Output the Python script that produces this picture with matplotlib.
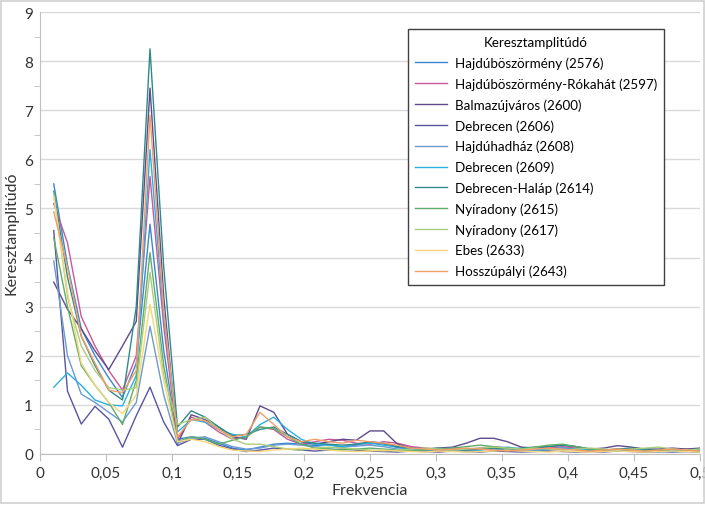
import numpy as np
import matplotlib
matplotlib.use('Agg')
import matplotlib.pyplot as plt
from matplotlib.ticker import MultipleLocator, FuncFormatter

# frequency grid: k/96, k = 1..48
freq = np.arange(1, 49) / 96

names = ['Hajdúböszörmény (2576)', 'Hajdúböszörmény-Rókahát (2597)', 'Balmazújváros (2600)',
         'Debrecen (2606)', 'Hajdúhadház (2608)', 'Debrecen (2609)', 'Debrecen-Haláp (2614)',
         'Nyíradony (2615)', 'Nyíradony (2617)', 'Ebes (2633)', 'Hosszúpályi (2643)']
colors = ['#3a87d0', '#c9589b', '#5e4b8b', '#5a55a0', '#6b9bd1', '#2ab0e0', '#2e8a8a',
          '#5fad6a', '#a9cd7d', '#f5d67a', '#f29e6b']

s2576 = [5.50, 3.85, 2.55, 2.00, 1.55, 1.15, 1.85, 4.68, 2.10, 0.30, 0.35, 0.32, 0.22, 0.12, 0.08, 0.14,
         0.20, 0.22, 0.20, 0.17, 0.19, 0.14, 0.18, 0.24, 0.20, 0.13, 0.10, 0.07, 0.09, 0.06, 0.08, 0.10,
         0.12, 0.10, 0.07, 0.06, 0.09, 0.12, 0.10, 0.06, 0.05, 0.08, 0.07, 0.05, 0.06, 0.08, 0.06, 0.07]
s2597 = [5.10, 4.30, 2.80, 2.20, 1.70, 1.30, 2.00, 5.65, 2.60, 0.30, 0.75, 0.65, 0.45, 0.30, 0.35, 0.55,
         0.50, 0.30, 0.20, 0.25, 0.30, 0.28, 0.22, 0.20, 0.25, 0.22, 0.15, 0.12, 0.10, 0.12, 0.10, 0.12,
         0.15, 0.12, 0.10, 0.08, 0.12, 0.15, 0.12, 0.08, 0.06, 0.10, 0.08, 0.06, 0.05, 0.08, 0.10, 0.08]
s2600 = [3.50, 2.95, 2.55, 2.10, 1.72, 2.20, 2.70, 7.45, 3.20, 0.20, 0.80, 0.70, 0.55, 0.35, 0.30, 0.98,
         0.85, 0.40, 0.25, 0.20, 0.25, 0.30, 0.28, 0.47, 0.47, 0.20, 0.12, 0.10, 0.12, 0.14, 0.22, 0.32,
         0.32, 0.25, 0.14, 0.12, 0.15, 0.18, 0.15, 0.10, 0.12, 0.17, 0.14, 0.10, 0.10, 0.12, 0.10, 0.12]
s2606 = [4.55, 1.28, 0.61, 0.97, 0.71, 0.14, 0.78, 1.36, 0.65, 0.17, 0.30, 0.30, 0.18, 0.10, 0.05, 0.08,
         0.12, 0.10, 0.08, 0.06, 0.08, 0.10, 0.08, 0.06, 0.05, 0.04, 0.06, 0.05, 0.04, 0.06, 0.05, 0.04,
         0.06, 0.05, 0.04, 0.05, 0.06, 0.05, 0.04, 0.05, 0.04, 0.06, 0.05, 0.04, 0.05, 0.04, 0.05, 0.04]
s2608 = [3.93, 2.00, 1.22, 1.05, 0.85, 0.65, 1.05, 2.60, 1.20, 0.22, 0.32, 0.35, 0.25, 0.15, 0.10, 0.12,
         0.18, 0.20, 0.18, 0.15, 0.12, 0.14, 0.16, 0.18, 0.15, 0.10, 0.08, 0.06, 0.08, 0.07, 0.06, 0.08,
         0.10, 0.08, 0.06, 0.07, 0.10, 0.12, 0.09, 0.06, 0.05, 0.07, 0.06, 0.05, 0.04, 0.06, 0.05, 0.06]
s2609 = [1.36, 1.65, 1.40, 1.10, 1.00, 0.98, 1.60, 6.20, 2.80, 0.45, 0.70, 0.65, 0.50, 0.40, 0.35, 0.60,
         0.75, 0.50, 0.30, 0.20, 0.18, 0.15, 0.20, 0.22, 0.18, 0.15, 0.10, 0.08, 0.10, 0.12, 0.10, 0.08,
         0.12, 0.14, 0.10, 0.08, 0.10, 0.12, 0.10, 0.08, 0.06, 0.08, 0.10, 0.08, 0.06, 0.05, 0.06, 0.05]
s2614 = [5.35, 3.60, 2.40, 1.80, 1.30, 1.10, 3.00, 8.25, 3.80, 0.55, 0.88, 0.75, 0.55, 0.37, 0.40, 0.50,
         0.55, 0.40, 0.25, 0.22, 0.20, 0.18, 0.20, 0.25, 0.22, 0.15, 0.12, 0.10, 0.12, 0.10, 0.08, 0.10,
         0.12, 0.10, 0.12, 0.14, 0.15, 0.18, 0.15, 0.10, 0.08, 0.10, 0.12, 0.10, 0.08, 0.10, 0.08, 0.10]
s2615 = [4.40, 3.00, 1.80, 1.40, 1.05, 0.60, 1.50, 4.10, 1.80, 0.25, 0.35, 0.30, 0.20, 0.28, 0.35, 0.55,
         0.52, 0.35, 0.20, 0.12, 0.10, 0.08, 0.10, 0.12, 0.10, 0.08, 0.06, 0.08, 0.10, 0.12, 0.15, 0.18,
         0.15, 0.12, 0.10, 0.14, 0.18, 0.20, 0.15, 0.10, 0.08, 0.10, 0.08, 0.06, 0.08, 0.10, 0.08, 0.06]
s2617 = [5.30, 3.20, 2.20, 1.70, 1.35, 1.30, 1.35, 3.70, 1.60, 0.60, 0.70, 0.75, 0.50, 0.30, 0.20, 0.20,
         0.15, 0.10, 0.08, 0.12, 0.14, 0.12, 0.10, 0.08, 0.06, 0.08, 0.10, 0.12, 0.10, 0.08, 0.10, 0.12,
         0.14, 0.12, 0.10, 0.12, 0.10, 0.08, 0.10, 0.12, 0.10, 0.08, 0.10, 0.12, 0.14, 0.10, 0.08, 0.10]
s2633 = [5.25, 3.30, 1.85, 1.40, 1.05, 0.82, 1.20, 3.05, 1.50, 0.25, 0.30, 0.25, 0.15, 0.08, 0.06, 0.05,
         0.08, 0.10, 0.12, 0.10, 0.08, 0.06, 0.05, 0.06, 0.08, 0.06, 0.05, 0.04, 0.06, 0.05, 0.04, 0.05,
         0.06, 0.08, 0.06, 0.05, 0.04, 0.06, 0.05, 0.04, 0.05, 0.06, 0.05, 0.04, 0.05, 0.06, 0.05, 0.04]
s2643 = [4.93, 3.80, 2.40, 1.85, 1.30, 1.25, 1.70, 6.90, 2.90, 0.35, 0.70, 0.68, 0.50, 0.35, 0.40, 0.85,
         0.60, 0.35, 0.25, 0.30, 0.25, 0.22, 0.28, 0.25, 0.22, 0.18, 0.12, 0.10, 0.08, 0.10, 0.12, 0.10,
         0.08, 0.06, 0.08, 0.10, 0.12, 0.10, 0.08, 0.06, 0.08, 0.10, 0.08, 0.06, 0.08, 0.10, 0.08, 0.06]

series = [s2576, s2597, s2600, s2606, s2608, s2609, s2614, s2615, s2617, s2633, s2643]

plt.rcParams['font.family'] = ['Lato', 'DejaVu Sans']

fig = plt.figure(figsize=(7.05, 5.06), dpi=100)
ax = fig.add_axes([40 / 705, 51 / 506, 660 / 705, 442 / 506])

for name, col, vals in zip(names, colors, series):
    ax.plot(freq, vals, color=col, lw=1.0, label=name)

ax.set_xlim(0, 0.5)
ax.set_ylim(0, 9)
ax.xaxis.set_major_locator(MultipleLocator(0.05))
ax.yaxis.set_major_locator(MultipleLocator(1))
ax.yaxis.set_minor_locator(MultipleLocator(0.5))
ax.xaxis.set_major_formatter(FuncFormatter(lambda v, p: ('%g' % round(v, 2)).replace('.', ',')))
ax.grid(axis='y', color='#d9d9d9', lw=1.0)
ax.set_axisbelow(True)
for s in ['top', 'right']:
    ax.spines[s].set_visible(False)
for s in ['left', 'bottom']:
    ax.spines[s].set_color('#bfbfbf')
ax.tick_params(axis='both', colors='#bfbfbf', labelcolor='#333333', labelsize=11, length=5)
ax.tick_params(axis='y', which='minor', colors='#bfbfbf', length=4)
ax.tick_params(axis='y', which='major', length=0, pad=5)
ax.set_xlabel('Frekvencia', fontsize=11.5, color='#333333', labelpad=2)
fig.text(12 / 705, 1 - 233 / 506, 'Keresztamplitúdó', rotation=90, ha='center', va='center',
         fontsize=11.5, color='#333333')

leg = ax.legend(title='Keresztamplitúdó', loc='upper left', bbox_to_anchor=(408 / 705, 1 - 30 / 506),
                bbox_transform=fig.transFigure, fontsize=9.6, title_fontsize=9.6,
                fancybox=False, edgecolor='#404040', framealpha=1, handlelength=2.4,
                handletextpad=0.55, labelspacing=0.62, borderpad=0.55, borderaxespad=0)
leg.get_frame().set_linewidth(1.0)

# outer chart border
fig.patches.append(plt.Rectangle((0.001, 0.003), 0.998, 0.994, transform=fig.transFigure,
                                 fill=False, edgecolor='#d0d0d0', lw=1.2))

fig.savefig('out.png', dpi=100)
